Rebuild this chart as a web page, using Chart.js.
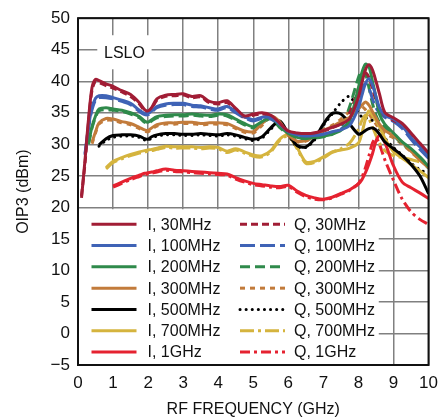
<!DOCTYPE html>
<html>
<head>
<meta charset="utf-8">
<script src="https://cdn.jsdelivr.net/npm/chart.js@4.4.0/dist/chart.umd.min.js"></script>
<style>
  html, body { margin: 0; padding: 0; background: #fff; }
</style>
</head>
<body>
<canvas id="canvasOip3" width="446" height="419"></canvas>
<script>
// RF frequency (GHz) sample points
var FREQ = [0.1, 0.2, 0.3, 0.4, 0.5, 0.6, 0.8, 1.0, 1.25, 1.5, 1.75, 1.9, 2.0, 2.1, 2.25, 2.5, 2.75, 3.0, 3.25, 3.5,
            3.75, 4.0, 4.25, 4.5, 4.75, 5.0, 5.25, 5.5, 5.75, 6.0, 6.25, 6.5, 6.75, 7.0, 7.25, 7.5, 7.75, 8.0, 8.1, 8.2,
            8.3, 8.4, 8.5, 8.6, 8.75, 9.0, 9.25, 9.5, 9.75, 10.0];

// OIP3 (dBm), I channel
var I_30M  = [21.5, 27.5, 34.0, 39.0, 40.3, 40.1, 39.6, 39.2, 38.5, 37.9, 36.6, 35.5, 35.3, 35.8, 37.2, 37.8, 37.9, 38.0, 37.6, 37.7,
              36.8, 36.6, 36.9, 35.7, 34.5, 34.8, 35.0, 34.6, 33.4, 32.1, 31.8, 31.7, 31.8, 32.2, 32.7, 33.2, 34.1, 37.5, 39.8, 41.8,
              42.6, 41.8, 40.0, 38.0, 35.1, 34.2, 33.3, 31.8, 30.2, 28.6];
var I_100M = [null, 28.5, 32.8, 35.8, 37.3, 37.7, 37.7, 37.4, 37.0, 36.5, 35.4, 34.9, 34.9, 35.3, 36.0, 36.4, 36.5, 36.5, 36.2, 36.1,
              35.8, 35.6, 36.0, 35.2, 34.4, 33.9, 34.3, 34.2, 33.2, 32.0, 31.5, 31.3, 31.4, 31.6, 32.0, 32.3, 33.0, 35.8, 37.8, 39.6,
              40.4, 39.4, 37.6, 35.8, 34.6, 34.0, 32.9, 31.1, 29.6, 28.1];
var I_200M = [null, null, 30.2, 32.8, 34.5, 35.6, 35.8, 35.6, 35.4, 35.0, 34.4, 33.7, 33.5, 33.9, 34.4, 34.6, 34.7, 34.7, 34.8, 34.7,
              34.6, 34.8, 34.7, 34.0, 33.3, 32.8, 33.6, 34.3, 32.9, 31.7, 31.1, 30.9, 31.1, 31.3, 31.6, 32.2, 33.8, 39.0, 41.4, 42.7,
              42.3, 40.0, 37.5, 34.8, 33.2, 31.8, 30.4, 29.3, 28.0, 26.5];
var I_300M = [null, null, null, 30.3, 32.0, 33.4, 34.1, 34.0, 33.6, 33.3, 32.7, 32.3, 32.2, 32.6, 33.1, 33.4, 33.4, 33.5, 33.5, 33.3,
              33.4, 33.4, 33.3, 32.7, 32.1, 32.0, 33.3, 34.5, 33.6, 31.5, 30.5, 30.6, 31.3, 32.2, 32.8, 33.6, 34.3, 35.6, 36.2, 36.7,
              36.2, 35.2, 34.2, 33.2, 32.2, 31.4, 30.3, 28.9, 27.5, 26.3];
var I_500M = [null, null, null, null, null, 29.9, 30.9, 31.4, 31.5, 31.5, 31.3, 30.9, 30.8, 31.2, 31.5, 31.7, 31.7, 31.6, 31.6, 31.7,
              31.6, 31.5, 31.7, 31.5, 31.1, 30.8, 31.2, 32.6, 33.7, 31.7, 29.8, 29.6, 30.9, 33.2, 34.9, 34.8, 33.2, 31.6, 31.8, 32.2,
              32.5, 32.6, 32.3, 31.6, 30.4, 29.3, 28.2, 26.8, 25.0, 22.2];
var I_700M = [null, null, null, null, null, null, 26.3, 27.3, 27.9, 28.4, 28.8, 29.0, 29.1, 29.2, 29.4, 29.7, 29.6, 29.6, 29.6, 29.5,
              29.6, 29.5, 28.9, 29.3, 28.8, 28.3, 28.2, 29.0, 30.8, 31.5, 29.5, 27.2, 27.3, 28.0, 28.8, 29.1, 29.4, 30.2, 31.8, 34.0,
              35.3, 34.6, 33.8, 32.8, 31.0, 28.8, 27.8, 26.8, 25.8, 24.7];
var I_1G   = [null, null, null, null, null, null, null, 23.4, 24.0, 24.6, 25.1, 25.4, 25.5, 25.6, 25.8, 26.1, 25.9, 25.8, 25.7, 25.6,
              25.5, 25.4, 25.3, 24.7, 24.2, 23.8, 23.6, 23.4, 23.3, 23.5, 22.6, 21.9, 21.5, 21.3, 21.6, 22.2, 22.8, 23.7, 24.4, 25.5,
              26.9, 28.5, 30.5, 31.4, 30.3, 26.6, 24.0, 23.1, 22.3, 21.4];

// OIP3 (dBm), Q channel
var Q_30M  = [21.8, 27.0, 33.5, 38.6, 40.0, 39.8, 39.3, 38.9, 38.3, 37.6, 36.4, 35.3, 35.1, 35.6, 37.0, 37.6, 37.7, 37.8, 37.4, 37.5,
              36.6, 36.4, 36.6, 35.5, 34.3, 34.6, 34.8, 34.4, 33.2, 32.0, 31.7, 31.6, 31.8, 32.1, 32.6, 33.3, 35.0, 38.8, 40.6, 41.3,
              40.6, 38.8, 37.0, 35.6, 34.6, 33.8, 32.9, 31.4, 29.8, 28.2];
var Q_100M = [null, 28.3, 32.5, 35.5, 37.0, 37.4, 37.4, 37.2, 36.8, 36.3, 35.2, 34.7, 34.7, 35.1, 35.8, 36.2, 36.3, 36.3, 36.0, 35.9,
              35.6, 35.4, 35.8, 35.0, 34.2, 33.7, 34.1, 34.0, 33.0, 31.8, 31.4, 31.2, 31.3, 31.5, 31.9, 32.4, 33.8, 37.0, 38.8, 39.6,
              38.9, 37.2, 35.8, 35.0, 34.3, 33.6, 32.5, 30.8, 29.2, 27.8];
var Q_200M = [null, null, 30.0, 32.6, 34.3, 35.3, 35.5, 35.4, 35.2, 34.8, 34.2, 33.5, 33.3, 33.7, 34.2, 34.4, 34.5, 34.5, 34.6, 34.5,
              34.4, 34.6, 34.5, 33.8, 33.1, 32.6, 33.4, 34.1, 32.7, 31.5, 31.0, 30.8, 31.0, 31.2, 31.6, 32.6, 36.0, 40.6, 41.8, 41.2,
              39.0, 36.5, 34.6, 33.5, 32.6, 31.4, 30.1, 29.0, 27.7, 26.2];
var Q_300M = [null, null, null, 30.1, 31.8, 33.2, 33.8, 33.8, 33.4, 33.1, 32.5, 32.1, 32.0, 32.4, 32.9, 33.2, 33.2, 33.3, 33.3, 33.1,
              33.2, 33.2, 33.1, 32.5, 31.9, 31.8, 33.0, 34.3, 33.5, 31.4, 30.4, 30.5, 31.3, 32.3, 33.0, 34.0, 35.2, 36.2, 36.0, 35.5,
              34.8, 34.0, 33.2, 32.5, 31.7, 31.0, 30.0, 28.8, 27.6, 26.8];
var Q_500M = [null, null, null, null, null, 29.7, 30.6, 31.1, 31.3, 31.3, 31.1, 30.7, 30.6, 31.0, 31.3, 31.5, 31.5, 31.4, 31.4, 31.5,
              31.4, 31.3, 31.5, 31.3, 30.9, 30.6, 31.0, 32.4, 33.5, 31.5, 29.6, 29.5, 30.7, 33.0, 34.8, 36.6, 37.6, 35.2, 34.3, 34.2,
              34.0, 33.8, 33.3, 32.4, 31.0, 29.5, 28.3, 27.0, 26.0, 25.3];
var Q_700M = [null, null, null, null, null, null, 26.1, 27.1, 27.7, 28.2, 28.6, 28.8, 28.9, 29.0, 29.2, 29.5, 29.4, 29.4, 29.4, 29.3,
              29.4, 29.3, 28.7, 29.1, 28.6, 28.1, 28.0, 28.8, 30.6, 31.3, 29.3, 27.0, 27.1, 27.8, 28.7, 29.3, 30.2, 32.4, 33.8, 34.6,
              34.0, 32.8, 31.4, 30.2, 29.0, 28.2, 27.9, 27.6, 27.2, 26.8];
var Q_1G   = [null, null, null, null, null, null, null, 23.2, 23.8, 24.4, 24.9, 25.2, 25.3, 25.4, 25.6, 25.9, 25.7, 25.6, 25.5, 25.4,
              25.3, 25.2, 25.1, 24.5, 24.0, 23.6, 23.4, 23.2, 23.1, 23.3, 22.4, 21.7, 21.3, 21.2, 21.5, 22.1, 22.7, 23.8, 24.8, 26.3,
              28.2, 30.2, 31.0, 30.0, 27.6, 24.3, 21.3, 19.3, 18.1, 17.3];

var LABELS_I = ['I, 30MHz', 'I, 100MHz', 'I, 200MHz', 'I, 300MHz', 'I, 500MHz', 'I, 700MHz', 'I, 1GHz'];
var LABELS_Q = ['Q, 30MHz', 'Q, 100MHz', 'Q, 200MHz', 'Q, 300MHz', 'Q, 500MHz', 'Q, 700MHz', 'Q, 1GHz'];
var COLORS   = ['#a11d35', '#3f63b6', '#2f8a4b', '#c27b3b', '#000000', '#d5b43e', '#e52230'];
var Q_DASHES = [[7, 4], [15, 5], [10, 5], [5, 5], [0.1, 6], [14, 4, 3, 4], [10, 4, 3, 4]];

var FONT = "'Liberation Sans', Arial, sans-serif";

function toPoints(vals)
{
  var pts = [];
  for (var i = 0; i < FREQ.length; i++)
  {
    if (vals[i] !== null) pts.push({ x: FREQ[i], y: vals[i] });
  }
  return pts;
}

var I_SERIES = [I_30M, I_100M, I_200M, I_300M, I_500M, I_700M, I_1G];
var Q_SERIES = [Q_30M, Q_100M, Q_200M, Q_300M, Q_500M, Q_700M, Q_1G];

var datasets = [];
for (var i = 0; i < I_SERIES.length; i++)
{
  datasets.push({
    label: LABELS_I[i],
    data: toPoints(I_SERIES[i]),
    borderColor: COLORS[i],
    borderWidth: 3,
    borderDash: [],
    borderCapStyle: 'butt'
  });
}
for (var j = 0; j < Q_SERIES.length; j++)
{
  datasets.push({
    label: LABELS_Q[j],
    data: toPoints(Q_SERIES[j]),
    borderColor: COLORS[j],
    borderWidth: 3,
    borderDash: Q_DASHES[j],
    borderCapStyle: j == 4 ? 'round' : 'butt'
  });
}

// white boxes, "LSLO" tag and the two column legend inside the plot
var insidePlugin = {
  id: 'inside',
  beforeDatasetsDraw: function(chart)
  {
    var ctx = chart.ctx, a = chart.chartArea;
    var xs = chart.scales.x, ys = chart.scales.y;
    ctx.save();
    ctx.fillStyle = '#fff';
    var boxTop = ys.getPixelForValue(19.7);
    var boxRight = xs.getPixelForValue(8.58);
    ctx.fillRect(a.left + 1, boxTop, boxRight - a.left - 1, a.bottom - 1 - boxTop);
    var tagL = xs.getPixelForValue(0.55), tagR = xs.getPixelForValue(2.1);
    var tagT = ys.getPixelForValue(47.3), tagB = ys.getPixelForValue(41.9);
    ctx.fillRect(tagL, tagT, tagR - tagL, tagB - tagT);

    ctx.fillStyle = '#111';
    ctx.font = "16px " + FONT;
    ctx.textAlign = 'center';
    ctx.textBaseline = 'middle';
    ctx.fillText('LSLO', (tagL + tagR) / 2, (tagT + tagB) / 2 + 1);

    // legend
    ctx.textAlign = 'left';
    ctx.font = "16px " + FONT;
    var ds = chart.data.datasets;
    var rowY = boxTop + 15, rowH = 21.3;
    for (var k = 0; k < 7; k++)
    {
      var y = rowY + k * rowH;
      var cols = [[a.left + 13.5, ds[k]], [a.left + 162, ds[k + 7]]];
      for (var c = 0; c < 2; c++)
      {
        var x0 = cols[c][0], d = cols[c][1];
        ctx.beginPath();
        ctx.strokeStyle = d.borderColor;
        ctx.lineWidth = 3;
        ctx.lineCap = d.borderCapStyle;
        ctx.setLineDash(d.borderDash);
        ctx.moveTo(x0, y);
        ctx.lineTo(x0 + 45, y);
        ctx.stroke();
        ctx.setLineDash([]);
        ctx.fillStyle = '#111';
        ctx.fillText(d.label, x0 + (c == 0 ? 56 : 54), y + 1);
      }
    }
    ctx.restore();
  },
  afterDraw: function(chart)
  {
    var ctx = chart.ctx, a = chart.chartArea;
    ctx.save();
    ctx.strokeStyle = '#111';
    ctx.lineWidth = 2;
    ctx.strokeRect(a.left, a.top, a.right - a.left, a.bottom - a.top);
    ctx.restore();
  }
};

var ctx = document.getElementById("canvasOip3").getContext("2d");
window.oipChart = new Chart(ctx, {
  type: 'line',
  data: { datasets: datasets },
  options: {
    responsive: false,
    animation: false,
    layout: { padding: { top: 13, right: 17, left: 0, bottom: 0 } },
    elements: {
      point: { radius: 0 },
      line: { tension: 0.3, borderJoinStyle: 'round' }
    },
    plugins: {
      legend: { display: false },
      tooltip: { enabled: false }
    },
    scales: {
      x: {
        type: 'linear',
        min: 0,
        max: 10,
        afterFit: function(scale) { scale.height = 54; },
        ticks: { stepSize: 1, color: '#111', padding: 8, font: { family: FONT, size: 17 } },
        grid: { color: '#808080', lineWidth: 1.5, drawTicks: false },
        border: { display: false },
        title: { display: true, text: 'RF FREQUENCY (GHz)', color: '#111', padding: 0, font: { family: FONT, size: 16 } }
      },
      y: {
        min: -5,
        max: 50,
        afterFit: function(scale) { scale.width = 78; },
        ticks: {
          stepSize: 5,
          color: '#111',
          padding: 8,
          font: { family: FONT, size: 17 },
          callback: function(v) { return v < 0 ? '\u2212' + Math.abs(v) : '' + v; }
        },
        grid: { color: '#808080', lineWidth: 1.5, drawTicks: false },
        border: { display: false },
        title: { display: true, text: 'OIP3 (dBm)', color: '#111', padding: { top: 14, bottom: 0 }, font: { family: FONT, size: 16 } }
      }
    }
  },
  plugins: [insidePlugin]
});
</script>
</body>
</html>
